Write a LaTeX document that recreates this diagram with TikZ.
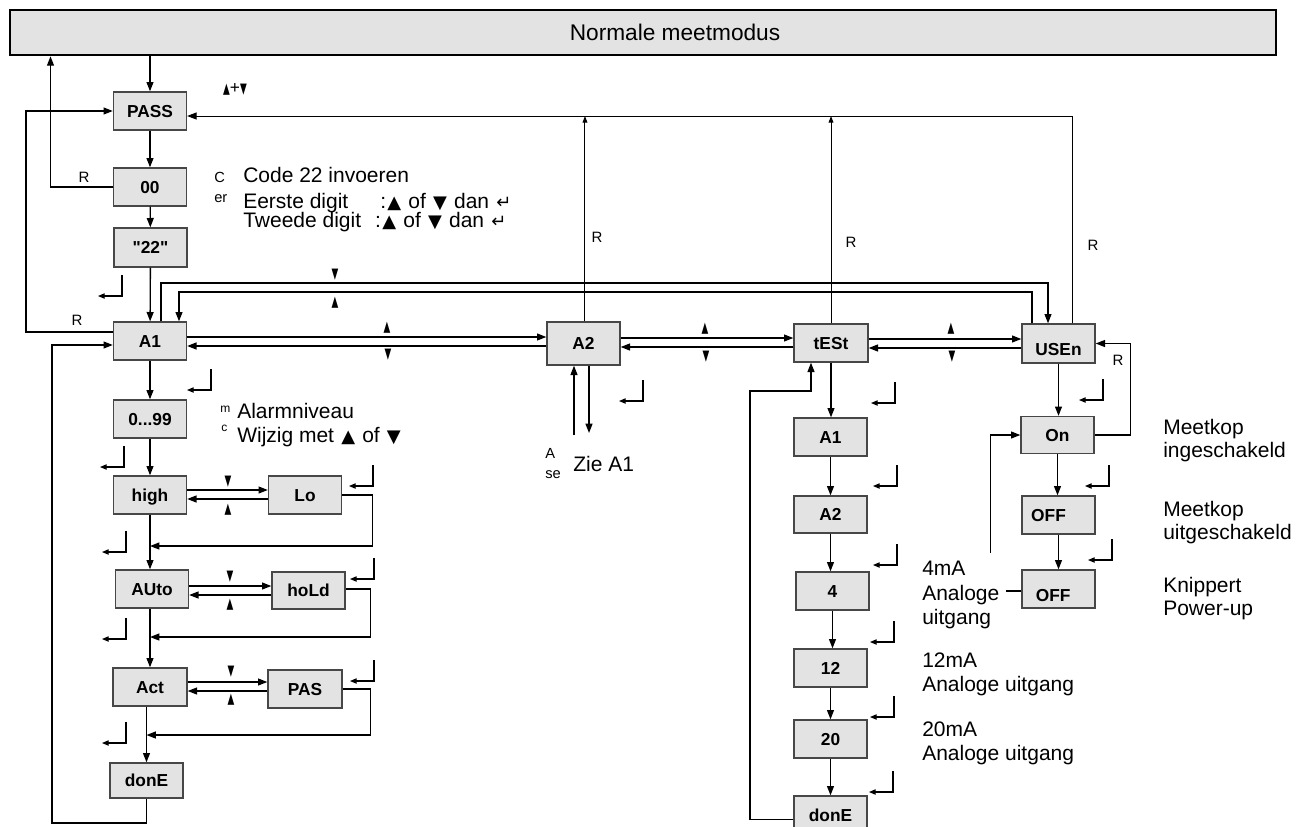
\documentclass[tikz,border=0pt]{standalone}
\usepackage{fontspec}
\setmainfont{Liberation Sans}
\newfontfamily\boxfont{Liberation Sans}
\newfontfamily\symf{DejaVu Sans}
\usetikzlibrary{arrows.meta,calc}
\newcommand\trup{\scalebox{0.6}[1]{\symf ▲}}
\newcommand\trdn{\scalebox{0.6}[1]{\symf ▼}}
\newcommand\bsym[1]{\hspace{1pt}{\symf\fontsize{13.5}{13.5}\selectfont #1}\hspace{1pt}}
\tikzset{
  box/.style={draw=black!72, fill=black!11, line width=1pt, minimum width=54.75pt,
    minimum height=28.5pt, inner sep=0pt, font=\boxfont\bfseries\fontsize{13}{13}\selectfont,
    text height=9.3pt, text depth=0pt},
  hdrbox/.style={draw=black, fill=black!11, line width=2pt, inner sep=0pt},
  conn/.style={line width=1pt},
  arr/.style={line width=1pt, -{Triangle[length=7pt,width=5.2pt]}},
  tarr/.style={line width=0.75pt, -{Triangle[length=5pt,width=3.6pt]}},
  txt/.style={font=\fontsize{15.75}{18}\selectfont, inner sep=0pt, anchor=base west},
  rlab/.style={font=\fontsize{11.25}{12}\selectfont, inner sep=0pt, anchor=base},
  frag/.style={font=\fontsize{11}{12}\selectfont, inner sep=0pt, anchor=base west},
  tri/.style={font=\fontsize{11}{11}\selectfont, inner sep=0pt},
  enter/.pic={\draw[line width=0.8pt, -{Triangle[length=5pt,width=4pt]}] (0,-21) -- (0,0) -- (-24,0);}
}
\begin{document}
\begin{tikzpicture}[x=0.75pt,y=-0.75pt]
\useasboundingbox (0,0) rectangle (1308,826);
\clip (0,0) rectangle (1308,826);
% header
\node[hdrbox, minimum width=949.5pt, minimum height=33.75pt] (hdr) at (643,32.5) {};
\node[txt, font=\fontsize{17}{18}\selectfont, anchor=base] (hdrtext) at (675,40) {Normale meetmodus};
% left column boxes
\node[box] (PASS) at (150,111) {PASS};
\node[box] (z00) at (150,187) {00};
\node[box, minimum height=29.25pt] (q22) at (150.5,247.5) {"22"};
\node[box] (A1) at (150,341) {A1};
\node[box] (n99) at (150,419) {0...99};
\node[box] (high) at (150,495) {high};
\node[box] (Lo) at (305,495) {Lo};
\node[box] (AUto) at (152,589) {AUto};
\node[box, minimum height=27.75pt] (hoLd) at (308.5,590.5) {hoLd};
\node[box, minimum width=55.5pt] (Act) at (150,687) {Act};
\node[box, minimum width=55.5pt] (PAS) at (305,689) {PAS};
\node[box, minimum height=26.25pt] (donEL) at (146.5,780.5) {donE};
% top row
\node[box, minimum height=32.25pt] (A2) at (583.5,343.5) {A2};
\node[box, minimum width=55.5pt] (tEST) at (831,343) {tESt};
\node[box, minimum height=29.25pt] (USEn) at (1058.5,343.5) {\raisebox{-4.5pt}{USEn}};
% USEn column
\node[box, minimum height=27.75pt] (On) at (1057.5,435) {On};
\node[box] (OFFa) at (1058.5,515) {OFF\kern15pt};
\node[box] (OFFb) at (1058.5,589) {\raisebox{-4.5pt}{OFF\kern8pt}};
% tESt column
\node[box] (tA1) at (830.5,437) {A1};
\node[box, minimum height=27.75pt] (tA2) at (830.5,514.5) {A2};
\node[box] (t4) at (832.5,591) {4};
\node[box] (t12) at (830.5,668) {12};
\node[box] (t20) at (830.5,739) {20};
\node[box] (tdonE) at (830.5,815) {donE};

% ---- connectors: left column
\coordinate (hL) at (hdr.south -| 50.5,0);
\draw[arr] (hdr.south -| PASS.north) -- (PASS.north);
\draw[arr] (z00.west) -| (hL);
\draw[arr] (PASS) -- (z00);
\draw[arr] (z00) -- (q22);
\draw[arr] (q22) -- (A1);
\draw[arr] ([yshift=6.75pt]A1.west) -- ++(-87,0) |- (PASS.west);
\draw[arr] (donEL.south) |- (52,823) |- ([yshift=-3pt]A1.west);
\draw[arr] (A1) -- (n99);
\draw[arr] (n99) -- (high);
\draw[arr] (high.south) -- (high.south |- AUto.north);
\draw[arr] (AUto.south -| high.south) -- (high.south |- Act.north);
\draw[arr] (Act.south -| donEL.north) -- (donEL.north);
\draw[arr] (high.east |- 0,490) -- (Lo.west |- 0,490);
\draw[arr] (Lo.west |- 0,499) -- (high.east |- 0,499);
\draw[arr] (Lo.east) -- ++(30,0) |- (high.south |- 0,546);
\draw[arr] (AUto.east |- 0,586) -- (hoLd.west |- 0,586);
\draw[arr] (hoLd.west |- 0,595) -- (AUto.east |- 0,595);
\draw[arr] (hoLd.east |- 0,589) -- ++(25,0) |- (high.south |- 0,637);
\draw[arr] (Act.east |- 0,682) -- (PAS.west |- 0,682);
\draw[arr] (PAS.west |- 0,691) -- (Act.east |- 0,691);
\draw[arr] (PAS.east |- 0,689) -- ++(28,0) |- (donEL.north |- 0,735);

% ---- top row
\coordinate (u1) at (1048,283);
\coordinate (u2) at (1032,292);
\draw[arr] ([xshift=8.25pt]A1.north) |- (u1) -- (u1 |- USEn.north);
\draw[arr] (u2 |- USEn.north) -- (u2) -| ([xshift=21.75pt]A1.north);
\draw[arr] (A1.east |- 0,337) -- (A2.west |- 0,337);
\draw[arr] (A2.west |- 0,346) -- (A1.east |- 0,346);
\draw[arr] (A2.east |- 0,338) -- (tEST.west |- 0,338);
\draw[arr] (tEST.west |- 0,347) -- (A2.east |- 0,347);
\draw[arr] (tEST.east |- 0,339) -- (USEn.west |- 0,339);
\draw[arr] (USEn.west |- 0,348) -- (tEST.east |- 0,348);
\coordinate (u3) at (1072,116);
\draw[arr, line width=0.75pt] (u3 |- USEn.north) -- (u3) -- (u3 -| PASS.east);
\coordinate (a2t) at ([xshift=1.1pt]A2.north);
\draw[tarr] (a2t) -- (a2t |- u3);
\draw[tarr] (tEST.north) -- (tEST.north |- u3);
\coordinate (zd) at (589,433);
\coordinate (zu) at (574,435);
\draw[arr] (zd |- A2.south) -- (zd);
\draw[arr] (zu) -- (zu |- A2.south);

% ---- tESt column
\draw[arr] (tEST.south) -- (tEST.south |- tA1.north);
\draw[arr] (tA1.south) -- (tA1.south |- tA2.north);
\draw[arr] (tA2.south) -- (tA2.south |- t4.north);
\draw[arr] (t4.south) -- (t4.south |- t12.north);
\draw[arr] (t12.south) -- (t12.south |- t20.north);
\draw[arr] (t20.south) -- (t20.south |- tdonE.north);
\draw[arr] ([yshift=-3.5pt]tdonE.west) -| (750,391) -| ([xshift=-15pt]tEST.south);

% ---- USEn column
\draw[arr] (USEn.south) -- (USEn.south |- On.north);
\draw[arr] (On.south) -- (On.south |- OFFa.north);
\draw[arr] (OFFa.south) -- (OFFa.south |- OFFb.north);
\draw[arr] (On.east) -- ++(36,0) |- (USEn.east);
\coordinate (oe) at (990.5,553);
\draw[arr] (oe) |- (On.west);
\coordinate (ae) at (1006,591);
\draw[conn] (ae) -- (ae -| OFFb.west);

% ---- enter symbols
\foreach \p in {(122,296),(211,390),(124,467),(373,486),(126,552),(374,579),(126,639),(374,681),(126,743),
  (643,401),(895,403),(897,486),(897,565),(894,642),(894,717),(893,792),(1103,400),(1109,486),(1112,560)}
  \pic at \p {enter};

% ---- texts
\node[tri] (pm) at (235,89) {\trup{\fontsize{13}{13}\selectfont +}\trdn};
\node[frag] (fC) at (214,182) {C};
\node[frag] (fer) at (214,202) {er};
\node[txt] (code) at (243,182) {Code 22 invoeren};
\node[txt] (eer) at (243,208) {\makebox[102.75pt][l]{Eerste digit}:\bsym{▲} of \bsym{▼} dan \bsym{↵}};
\node[txt] (twe) at (243,227) {\makebox[99pt][l]{Tweede digit}:\bsym{▲} of \bsym{▼} dan \bsym{↵}};
\node[frag, font=\fontsize{9}{9}\selectfont] (fm) at (220,412) {m};
\node[frag, font=\fontsize{9}{9}\selectfont] (fc) at (221,431) {c};
\node[txt] (alarm) at (237,418) {Alarmniveau};
\node[txt] (wijz) at (237,442) {Wijzig met \bsym{▲} of \bsym{▼}};
\node[frag] (fA) at (545,458) {A};
\node[frag] (fse) at (545,478) {se};
\node[txt] (zie) at (573,471) {Zie A1};
\node[txt] (m4a) at (922,575) {4mA};
\node[txt] (m4b) at (922,600) {Analoge};
\node[txt] (m4c) at (922,624) {uitgang};
\node[txt] (m12a) at (922,667) {12mA};
\node[txt] (m12b) at (922,691) {Analoge uitgang};
\node[txt] (m20a) at (922,736) {20mA};
\node[txt] (m20b) at (922,760) {Analoge uitgang};
\node[txt] (mk1a) at (1163,434) {Meetkop};
\node[txt] (mk1b) at (1163,457) {ingeschakeld};
\node[txt] (mk2a) at (1163,516) {Meetkop};
\node[txt] (mk2b) at (1163,539) {uitgeschakeld};
\node[txt] (knip) at (1163,592) {Knippert};
\node[txt] (pwr) at (1163,615) {Power-up};
% R labels
\node[rlab] (r1) at (84,182) {R};
\node[rlab] (r2) at (77,325) {R};
\node[rlab] (r3) at (597,242) {R};
\node[rlab] (r4) at (851,247) {R};
\node[rlab] (r5) at (1093,250) {R};
\node[rlab] (r6) at (1118,365) {R};
% arrow-key labels
\node[tri] (k1) at (335,275) {\trdn};
\node[tri] (k2) at (335,303) {\trup};
\node[tri] (k3) at (387,328) {\trup};
\node[tri] (k4) at (388,355) {\trdn};
\node[tri] (k5) at (705,329) {\trup};
\node[tri] (k6) at (706,357) {\trdn};
\node[tri] (k7) at (951,329) {\trup};
\node[tri] (k8) at (952,357) {\trdn};
\node[tri] (k9) at (228,482) {\trdn};
\node[tri] (k10) at (228,510) {\trup};
\node[tri] (k11) at (230,577) {\trdn};
\node[tri] (k12) at (230,605) {\trup};
\node[tri] (k13) at (231,672) {\trdn};
\node[tri] (k14) at (231,700) {\trup};
\end{tikzpicture}
\end{document}
